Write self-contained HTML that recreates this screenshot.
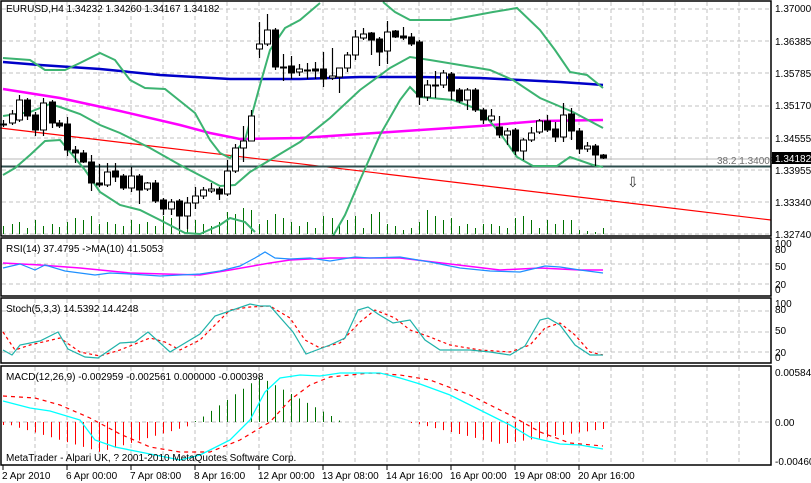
<!DOCTYPE html>
<html><head><meta charset="utf-8"><style>
body{margin:0;background:#fff;}
svg{display:block;font-family:"Liberation Sans",sans-serif;font-size:10px;}
</style></head><body>
<svg id="s" width="811" height="483" xmlns="http://www.w3.org/2000/svg">
<rect width="811" height="483" fill="#fff"/>
<g id="grid" stroke="#c0c0c0" stroke-dasharray="4,3" stroke-width="1"></g>
<g id="vol" stroke="#007000" stroke-width="1"></g>
<line x1="1" y1="159" x2="771" y2="159" stroke="#b8b8b8"/>
<line x1="0" y1="128" x2="771" y2="220" stroke="#ff0000" stroke-width="1.2"/>
<line x1="1" y1="166.5" x2="771" y2="166.5" stroke="#2f4f4f" stroke-width="2"/>
<text x="717" y="164" fill="#707070" font-size="10">38.2  1.34008</text>
<text x="627" y="187" fill="#333" font-size="14">⇩</text>
<polyline fill="none" stroke="#0000c8" stroke-width="2.5" points="3,62 40,65 100,69 160,75 230,79 300,79 360,77 420,77 480,78 520,80 560,82 590,84 603,85"/>
<polyline fill="none" stroke="#ff00ff" stroke-width="2.5" points="3,89 60,98 120,111 180,125 210,133 240,139 300,138 360,134 420,130 480,126 540,121 603,120"/>
<g fill="none" stroke="#3cb371" stroke-width="2">
<polyline points="3,58 30,60 45,70 65,70 80,63 100,53 115,60 130,80 145,88 165,89 195,113 210,140 220,153 230,158 245,140 260,85 270,50 285,28 300,20 320,3"/>
<polyline points="383,2 395,12 410,20 450,20 493,12 517,8 540,30 555,50 570,72 587,75 603,88"/>
<polyline points="3,116 30,112 50,104 60,107 80,114 100,125 120,133 150,148 180,165 205,178 220,186 235,185 250,172 270,160 290,148 300,142 330,118 360,90 390,68 410,57 430,60 490,70 513,80 540,98 573,112 603,128"/>
<polyline points="3,175 15,168 30,155 45,141 60,140 70,152 85,170 100,192 120,205 140,210 160,220 185,233 200,234 220,225 230,218 245,222 255,232"/>
<polyline points="333,236 345,215 360,180 380,135 400,100 410,87 420,97 453,100 480,110 500,133 517,157 533,166 557,166 570,157 593,165 603,167"/>
</g>
<g id="cndl"></g>
<polyline fill="none" stroke="#ff00ff" stroke-width="1.5" points="3,263 40,265 80,268 130,273 200,275 230,270 270,263 290,260 330,258 400,258 450,264 500,270 540,268 580,270 603,270"/>
<polyline fill="none" stroke="#1e90ff" stroke-width="1.2" points="3,268 20,264 35,270 45,265 65,271 95,275 110,273 130,274 160,276 180,275 200,274 220,271 240,266 255,258 265,252 275,258 290,259 310,258 330,261 355,257 370,258 400,257 430,262 460,268 490,271 520,272 545,266 560,267 580,270 603,273"/>
<polyline fill="none" stroke="#ff0000" stroke-dasharray="3,3" stroke-width="1.2" points="3,332 15,350 30,345 60,338 80,352 100,356 120,350 150,338 165,342 180,350 200,340 215,325 230,310 250,307 270,306 290,318 305,340 320,348 340,343 360,322 375,310 395,318 410,330 430,337 450,345 480,350 510,352 530,345 545,328 560,323 575,335 590,352 603,355"/>
<polyline fill="none" stroke="#20b2aa" stroke-width="1.2" points="3,350 12,355 20,345 40,341 58,332 68,349 85,357 98,358 120,343 135,342 148,332 170,352 200,334 215,316 250,304 260,306 270,306 293,332 306,354 330,345 345,338 358,310 368,307 378,314 393,323 410,320 425,340 440,350 470,350 490,352 510,355 525,346 540,320 548,318 560,325 575,345 590,355 603,355"/>
<g id="hist" stroke-width="1"></g>
<polyline fill="none" stroke="#ff0000" stroke-dasharray="4,4" stroke-width="1.2" points="3,396 35,398 60,405 90,418 120,434 150,447 180,452 210,452 240,440 270,422 290,400 310,385 330,377 370,373 400,375 430,380 470,395 510,415 540,432 570,443 603,446"/>
<polyline fill="none" stroke="#00ffff" stroke-width="1.3" points="3,401 30,408 50,411 80,420 95,440 115,447 140,452 180,460 200,455 230,440 250,420 265,392 280,378 300,375 320,376 340,373 380,373 400,378 420,384 450,395 480,410 510,425 530,437 560,444 580,445 603,449"/>
<g fill="none" stroke="#000" stroke-width="1.5">
<rect x="1" y="1" width="770" height="235"/>
<rect x="1" y="238" width="770" height="58"/>
<rect x="1" y="298" width="770" height="65"/>
<rect x="1" y="366" width="770" height="99"/>
</g>
<text x="6" y="12" fill="#000">EURUSD,H4  1.34232 1.34260 1.34167 1.34182</text>
<text x="6" y="252" fill="#000">RSI(14) 37.4795  -&gt;MA(10) 41.5053</text>
<text x="6" y="312" fill="#000">Stoch(5,3,3) 14.5392 14.4248</text>
<text x="6" y="380" fill="#000">MACD(12,26,9) -0.002959 -0.002561 0.000000 -0.000398</text>
<text x="6" y="461" fill="#000">MetaTrader - Alpari UK, ? 2001-2010 MetaQuotes Software Corp.</text>
<g id="axis" fill="#000"></g>
<rect x="772" y="152" width="39" height="12" fill="#000"/>
<text x="775" y="162" fill="#fff">1.34182</text>
</svg>
<script>
var NS="http://www.w3.org/2000/svg";
function el(p,t,a,txt){var e=document.createElementNS(NS,t);for(var k in a)e.setAttribute(k,a[k]);if(txt)e.textContent=txt;document.getElementById(p).appendChild(e);return e;}
for(var x=35;x<771;x+=32){[[2,235],[239,295],[299,362],[367,464]].forEach(function(r){el('grid','line',{x1:x,y1:r[0],x2:x,y2:r[1]});});}
[9,41,73,106,138,170,202,234,264,284,311,332,352,422].forEach(function(y){el('grid','line',{x1:2,y1:y,x2:770,y2:y});});
var C=[[3,124,124,120,127],[12,123,114,110,125],[19,120,100,95,122],[27,100,116,98,120],[35,115,130,112,136],[43,130,103,98,136],[52,102,123,100,128],[59,123,126,120,128],[67,124,150,117,156],[75,150,153,146,163],[83,153,162,150,163],[91,162,183,155,191],[99,183,185,164,187],[107,185,172,163,187],[115,171,177,163,182],[123,176,188,174,190],[131,188,176,167,192],[139,176,190,174,204],[147,189,183,182,191],[155,183,201,180,203],[163,200,209,198,215],[171,209,202,199,215],[179,201,216,199,229],[187,216,203,197,229],[195,203,196,187,209],[203,196,190,187,199],[211,191,189,183,193],[219,189,194,187,200],[227,194,171,160,196],[235,171,148,144,173],[243,148,141,126,162],[251,141,116,110,140],[259,49,44,22,58],[267,44,30,14,46],[275,30,67,28,70],[283,67,68,54,81],[291,66,73,56,79],[299,72,69,64,76],[307,70,71,63,79],[315,69,71,62,79],[323,69,79,52,87],[332,78,76,48,80],[339,77,68,68,93],[347,68,55,52,72],[355,55,37,30,60],[363,38,34,28,40],[371,33,40,32,55],[379,39,52,37,66],[387,51,32,21,64],[395,31,37,30,38],[403,36,38,27,40],[411,37,44,33,46],[419,42,97,40,105],[427,97,85,80,101],[435,85,85,71,98],[443,85,73,70,88],[451,74,91,72,100],[459,90,101,88,103],[467,100,90,88,110],[475,90,110,88,112],[483,110,120,108,124],[491,120,116,109,122],[499,127,135,116,138],[507,135,131,128,145],[515,130,151,128,155],[523,151,140,138,160],[531,140,133,127,142],[539,132,121,119,134],[547,121,130,115,132],[555,129,137,122,142],[563,137,115,103,142],[571,114,131,108,140],[579,131,149,128,154],[587,149,146,142,152],[595,146,155,144,166],[603,155,158,154,159]];
var H=[8,10,12,6,14,8,10,7,12,16,14,18,10,12,10,8,14,10,12,8,18,16,20,18,14,10,8,12,22,20,26,24,10,14,20,16,12,8,12,6,18,16,10,14,18,6,20,22,10,8,4,6,12,24,18,14,16,8,10,6,10,10,8,6,16,18,14,6,14,10,14,14,4,3,2];
C.forEach(function(c,i){var x=c[0],o=c[1],cl=c[2];
el('cndl','line',{x1:x+.5,y1:c[3],x2:x+.5,y2:c[4],stroke:'#000','stroke-width':1.2});
var t=Math.min(o,cl),b=Math.max(o,cl);if(b-t<1)b=t+1;
el('cndl','rect',{x:x-2.5,y:t,width:6,height:b-t,fill:cl<o?'#fff':'#000',stroke:'#000','stroke-width':1});
el('vol','line',{x1:x+.5,y1:234,x2:x+.5,y2:234-(H[i]||6)});
});
for(var x=3;x<604;x+=8){var v;
if(x<195){v=(x<100?(x/100)*30:30-(x-100)/95*28);el('hist','line',{x1:x+.5,y1:422,x2:x+.5,y2:422+Math.max(3,v),stroke:'#ff0000'});}
else if(x<340){v=(x<260?(x-195)/65*45:45-(x-260)/80*44);el('hist','line',{x1:x+.5,y1:422,x2:x+.5,y2:422-Math.max(1,v),stroke:'#007000'});}
else if(x>410){v=(x<500?(x-410)/90*22:22-(x-500)/110*16);el('hist','line',{x1:x+.5,y1:422,x2:x+.5,y2:422+Math.max(1,v),stroke:'#ff0000'});}
}
[["1.37000",12],["1.36385",45],["1.35785",77],["1.35170",109],["1.34555",142],["1.33955",174],["1.33340",206],["1.32740",238],["100",247],["80",253],["50",270],["20",288],["0",293],["100",307],["80",313],["50",334],["20",356],["0",361],["0.00584",376],["0.00",426],["-0.00460",465]].forEach(function(l){el('axis','text',{x:775,y:l[1]},l[0]);});
[["2 Apr 2010",2],["6 Apr 00:00",66],["7 Apr 08:00",130],["8 Apr 16:00",194],["12 Apr 00:00",258],["13 Apr 08:00",322],["14 Apr 16:00",386],["16 Apr 00:00",450],["19 Apr 08:00",514],["20 Apr 16:00",578]].forEach(function(l){el('axis','text',{x:l[1],y:479},l[0]);el('axis','line',{x1:l[1]+1,y1:465,x2:l[1]+1,y2:470,stroke:'#000'});});
</script>
</body></html>
